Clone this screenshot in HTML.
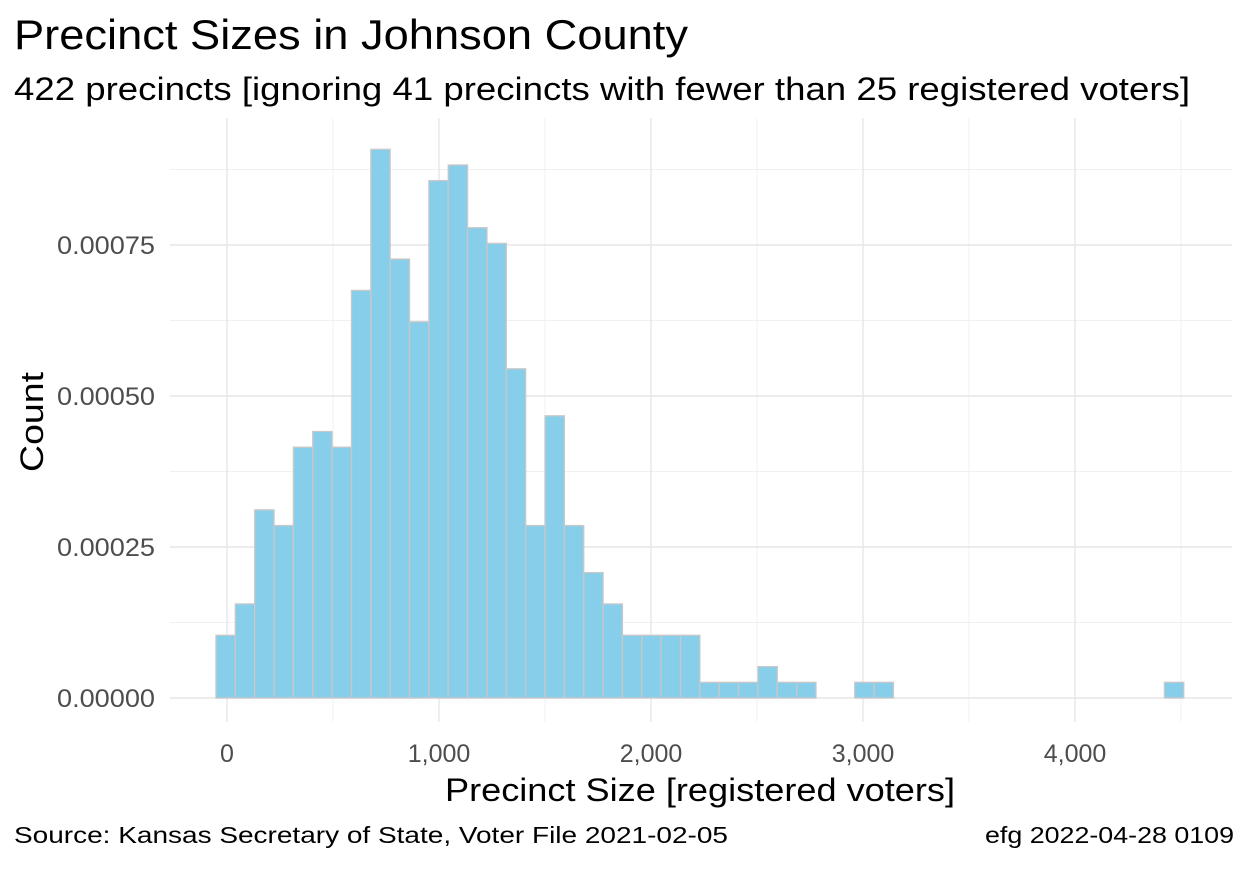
<!DOCTYPE html>
<html><head><meta charset="utf-8"><style>
body{margin:0;background:#fff;font-family:"Liberation Sans",Arial,sans-serif}
svg text{font-family:"Liberation Sans",Arial,sans-serif}
</style></head><body>
<svg id="chart" width="1248" height="864" viewBox="0 0 1248 864" xmlns="http://www.w3.org/2000/svg">
<rect width="1248" height="864" fill="#fff"/>
<g id="grid"></g>
<g id="bars"></g>
<g id="labels"></g>
<text x="14" y="49" font-size="42" textLength="674" lengthAdjust="spacingAndGlyphs" fill="#000">Precinct Sizes in Johnson County</text>
<text x="14" y="100" font-size="32" textLength="1176" lengthAdjust="spacingAndGlyphs" fill="#000">422 precincts [ignoring 41 precincts with fewer than 25 registered voters]</text>
<text x="700" y="801" font-size="32" text-anchor="middle" textLength="510" lengthAdjust="spacingAndGlyphs" fill="#000">Precinct Size [registered voters]</text>
<text transform="translate(43,422) rotate(-90)" font-size="32" text-anchor="middle" textLength="100" lengthAdjust="spacingAndGlyphs" fill="#000">Count</text>
<text x="14" y="843" font-size="23" textLength="714" lengthAdjust="spacingAndGlyphs" fill="#000">Source:  Kansas Secretary of State, Voter File  2021-02-05</text>
<text x="1234" y="843" font-size="23" text-anchor="end" textLength="249" lengthAdjust="spacingAndGlyphs" fill="#000">efg 2022-04-28 0109</text>
</svg>
<script>
const binCounts=[4,6,12,11,16,17,16,26,35,28,24,33,34,30,29,21,11,18,11,8,6,4,4,4,4,1,1,1,2,1,1,0,0,1,1,0,0,0,0,0,0,0,0,0,0,0,0,0,0,1];
const binStart=-52;
const binWidth=91.3;
const totalN=422;
const xTicks=[0,1000,2000,3000,4000];
const xTickLabels=["0","1,000","2,000","3,000","4,000"];
const yTicks=[0,0.00025,0.0005,0.00075];
const yTickLabels=["0.00000","0.00025","0.00050","0.00075"];

const NS="http://www.w3.org/2000/svg";
const X=v=>227+v*0.212;
const Y=v=>698-v*(151/0.00025);
const P={l:170,r:1232,t:118,b:722};
function mk(tag,attrs,parent){const e=document.createElementNS(NS,tag);for(const k in attrs)e.setAttribute(k,attrs[k]);parent.appendChild(e);return e;}
const grid=document.getElementById('grid'),bars=document.getElementById('bars'),labels=document.getElementById('labels');
for(let v=-500;v<=5000;v+=1000){const x=X(v);if(x<P.l||x>P.r)continue;
 const l=mk('line',{x1:x,x2:x,y1:P.t,y2:P.b,stroke:'#f0f0f0','stroke-width':1},grid);
 
 }
for(let v=-0.000125;v<=0.001;v+=0.00025){const y=Y(v);if(y<P.t||y>P.b)continue;
 const l=mk('line',{x1:P.l,x2:P.r,y1:y,y2:y,stroke:'#f0f0f0','stroke-width':1},grid);
 
 }
xTicks.forEach((v,i)=>{const x=X(v);
 const l=mk('line',{x1:x,x2:x,y1:P.t,y2:P.b,stroke:'#e6e6e6','stroke-width':1.4},grid);
 
 
 const t=mk('text',{x:x,y:762,'font-size':25,'text-anchor':'middle',fill:'#4d4d4d'},labels);t.textContent=xTickLabels[i];
 
 });
yTicks.forEach((v,i)=>{const y=Y(v);
 const l=mk('line',{x1:P.l,x2:P.r,y1:y,y2:y,stroke:'#e6e6e6','stroke-width':1.4},grid);
 
 
 const t=mk('text',{x:155,y:y+9,'font-size':25,'text-anchor':'end',textLength:98,lengthAdjust:'spacingAndGlyphs',fill:'#4d4d4d'},labels);t.textContent=yTickLabels[i];
 
 });
binCounts.forEach((c,i)=>{const x0=X(binStart+i*binWidth),x1=X(binStart+(i+1)*binWidth);
 const d=c/(totalN*binWidth);const y=Y(d);
 const r=mk('rect',{x:x0,y:y,width:x1-x0,height:Y(0)-y,fill:'#87ceeb',stroke:'#c8c8c8','stroke-width':1.3},bars);
 
 });
</script>
</body></html>
